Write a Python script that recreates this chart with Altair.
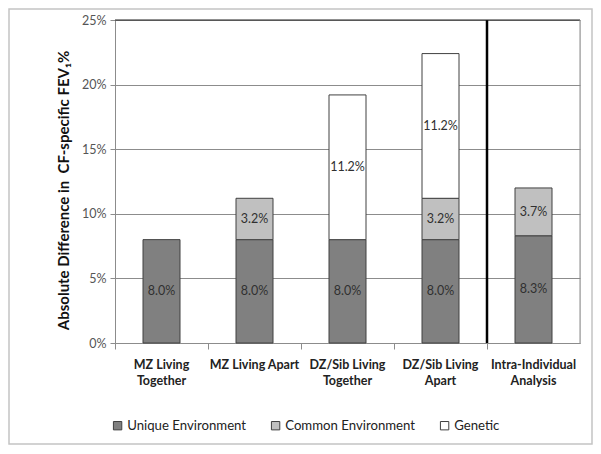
import altair as alt
import pandas as pd

categories = ["MZ Living\nTogether", "MZ Living Apart", "DZ/Sib Living\nTogether",
              "DZ/Sib Living\nApart", "Intra-Individual\nAnalysis"]
components = ["Unique Environment", "Common Environment", "Genetic"]
unique_env = [8.0, 8.0, 8.0, 8.0, 8.3]
common_env = [0.0, 3.2, 0.0, 3.2, 3.7]
genetic = [0.0, 0.0, 11.2, 11.2, 0.0]
y_ticks = [0, 5, 10, 15, 20, 25]
colors = ["#808080", "#c0c0c0", "#ffffff"]

rows = []
for i, cat in enumerate(categories):
    start = 0.0
    for comp, vals in zip(components, [unique_env, common_env, genetic]):
        v = vals[i]
        if v > 0:
            rows.append({"cat": cat, "comp": comp, "start": start, "end": start + v,
                         "mid": start + v / 2, "label": f"{v:.1f}%"})
            start += v
df = pd.DataFrame(rows)

W, H = 465, 323
FONT = "Lato"

xscale = alt.Scale(domain=categories, paddingInner=0, paddingOuter=0)
xaxis = alt.Axis(title=None, labelAngle=0, bandPosition=0, ticks=True, tickSize=6,
                 tickColor="#8c8c8c", domainColor="#8c8c8c", labelFont=FONT,
                 labelFontWeight="bold", labelFontSize=12.5, labelColor="#222222",
                 labelPadding=9, labelLineHeight=16, grid=False,
                 labelExpr="split(datum.label, '\\n')")
yscale = alt.Scale(domain=[0, 25], nice=False)
yaxis = alt.Axis(values=y_ticks, grid=True, gridColor="#8c8c8c", domainColor="#8c8c8c",
                 tickColor="#8c8c8c", tickSize=5, labelColor="#555555", labelFont=FONT,
                 labelFontSize=12.5, labelPadding=4, labelExpr="datum.value + '%'",
                 title="Absolute Difference in\u00a0\u00a0CF-specific FEV\u2081%", titleFont=FONT,
                 titleFontSize=15, titleFontWeight="bold", titleColor="#111111",
                 titlePadding=10, titleY=170)

base = alt.Chart(df)

frame = alt.Chart(alt.Data(values=[{"a": 1}])).mark_rect(
    fill="white", fillOpacity=0, stroke="#c4c4c4", strokeWidth=1.5
).encode(x=alt.value(-106), x2=alt.value(477), y=alt.value(-11), y2=alt.value(424))

bars = base.mark_bar(width=37, stroke="#404040", strokeWidth=1).encode(
    x=alt.X("cat:N", scale=xscale, axis=xaxis, sort=categories),
    y=alt.Y("start:Q", scale=yscale, axis=yaxis),
    y2="end:Q",
    color=alt.Color("comp:N", scale=alt.Scale(domain=components, range=colors),
                    legend=alt.Legend(title=None, orient="none", legendX=-4, legendY=399,
                                      direction="horizontal", symbolType="square",
                                      symbolSize=70, symbolStrokeColor="#404040",
                                      symbolStrokeWidth=1, labelFont=FONT,
                                      labelFontSize=13.2, labelColor="#222222",
                                      columnPadding=22, labelOffset=3)),
)

texts = base.mark_text(fontSize=12.5, font=FONT, color="#303030").encode(
    x=alt.X("cat:N", scale=xscale, sort=categories),
    y=alt.Y("mid:Q", scale=yscale),
    text="label:N",
)

divider = alt.Chart(alt.Data(values=[{"cat": categories[4]}])).mark_rule(
    color="#000000", strokeWidth=2.5
).encode(x=alt.X("cat:N", scale=xscale, bandPosition=0, sort=categories),
         y=alt.value(0), y2=alt.value(H))

top_line = alt.Chart(alt.Data(values=[{"a": 1}])).mark_rule(color="#222222", strokeWidth=1.2).encode(
    x=alt.value(0), x2=alt.value(W), y=alt.value(0))
right_line = alt.Chart(alt.Data(values=[{"a": 1}])).mark_rule(color="#8c8c8c", strokeWidth=1).encode(
    x=alt.value(W), y=alt.value(0), y2=alt.value(H))

chart = alt.layer(frame, bars, texts, divider, top_line, right_line).properties(
    width=W, height=H,
    autosize=alt.AutoSizeParams(type="none"),
    padding={"left": 107, "top": 12, "right": 13, "bottom": 103},
).configure_view(stroke=None).configure(background="white")

chart.save("out.html", embed_options={"renderer": "svg", "actions": False})
